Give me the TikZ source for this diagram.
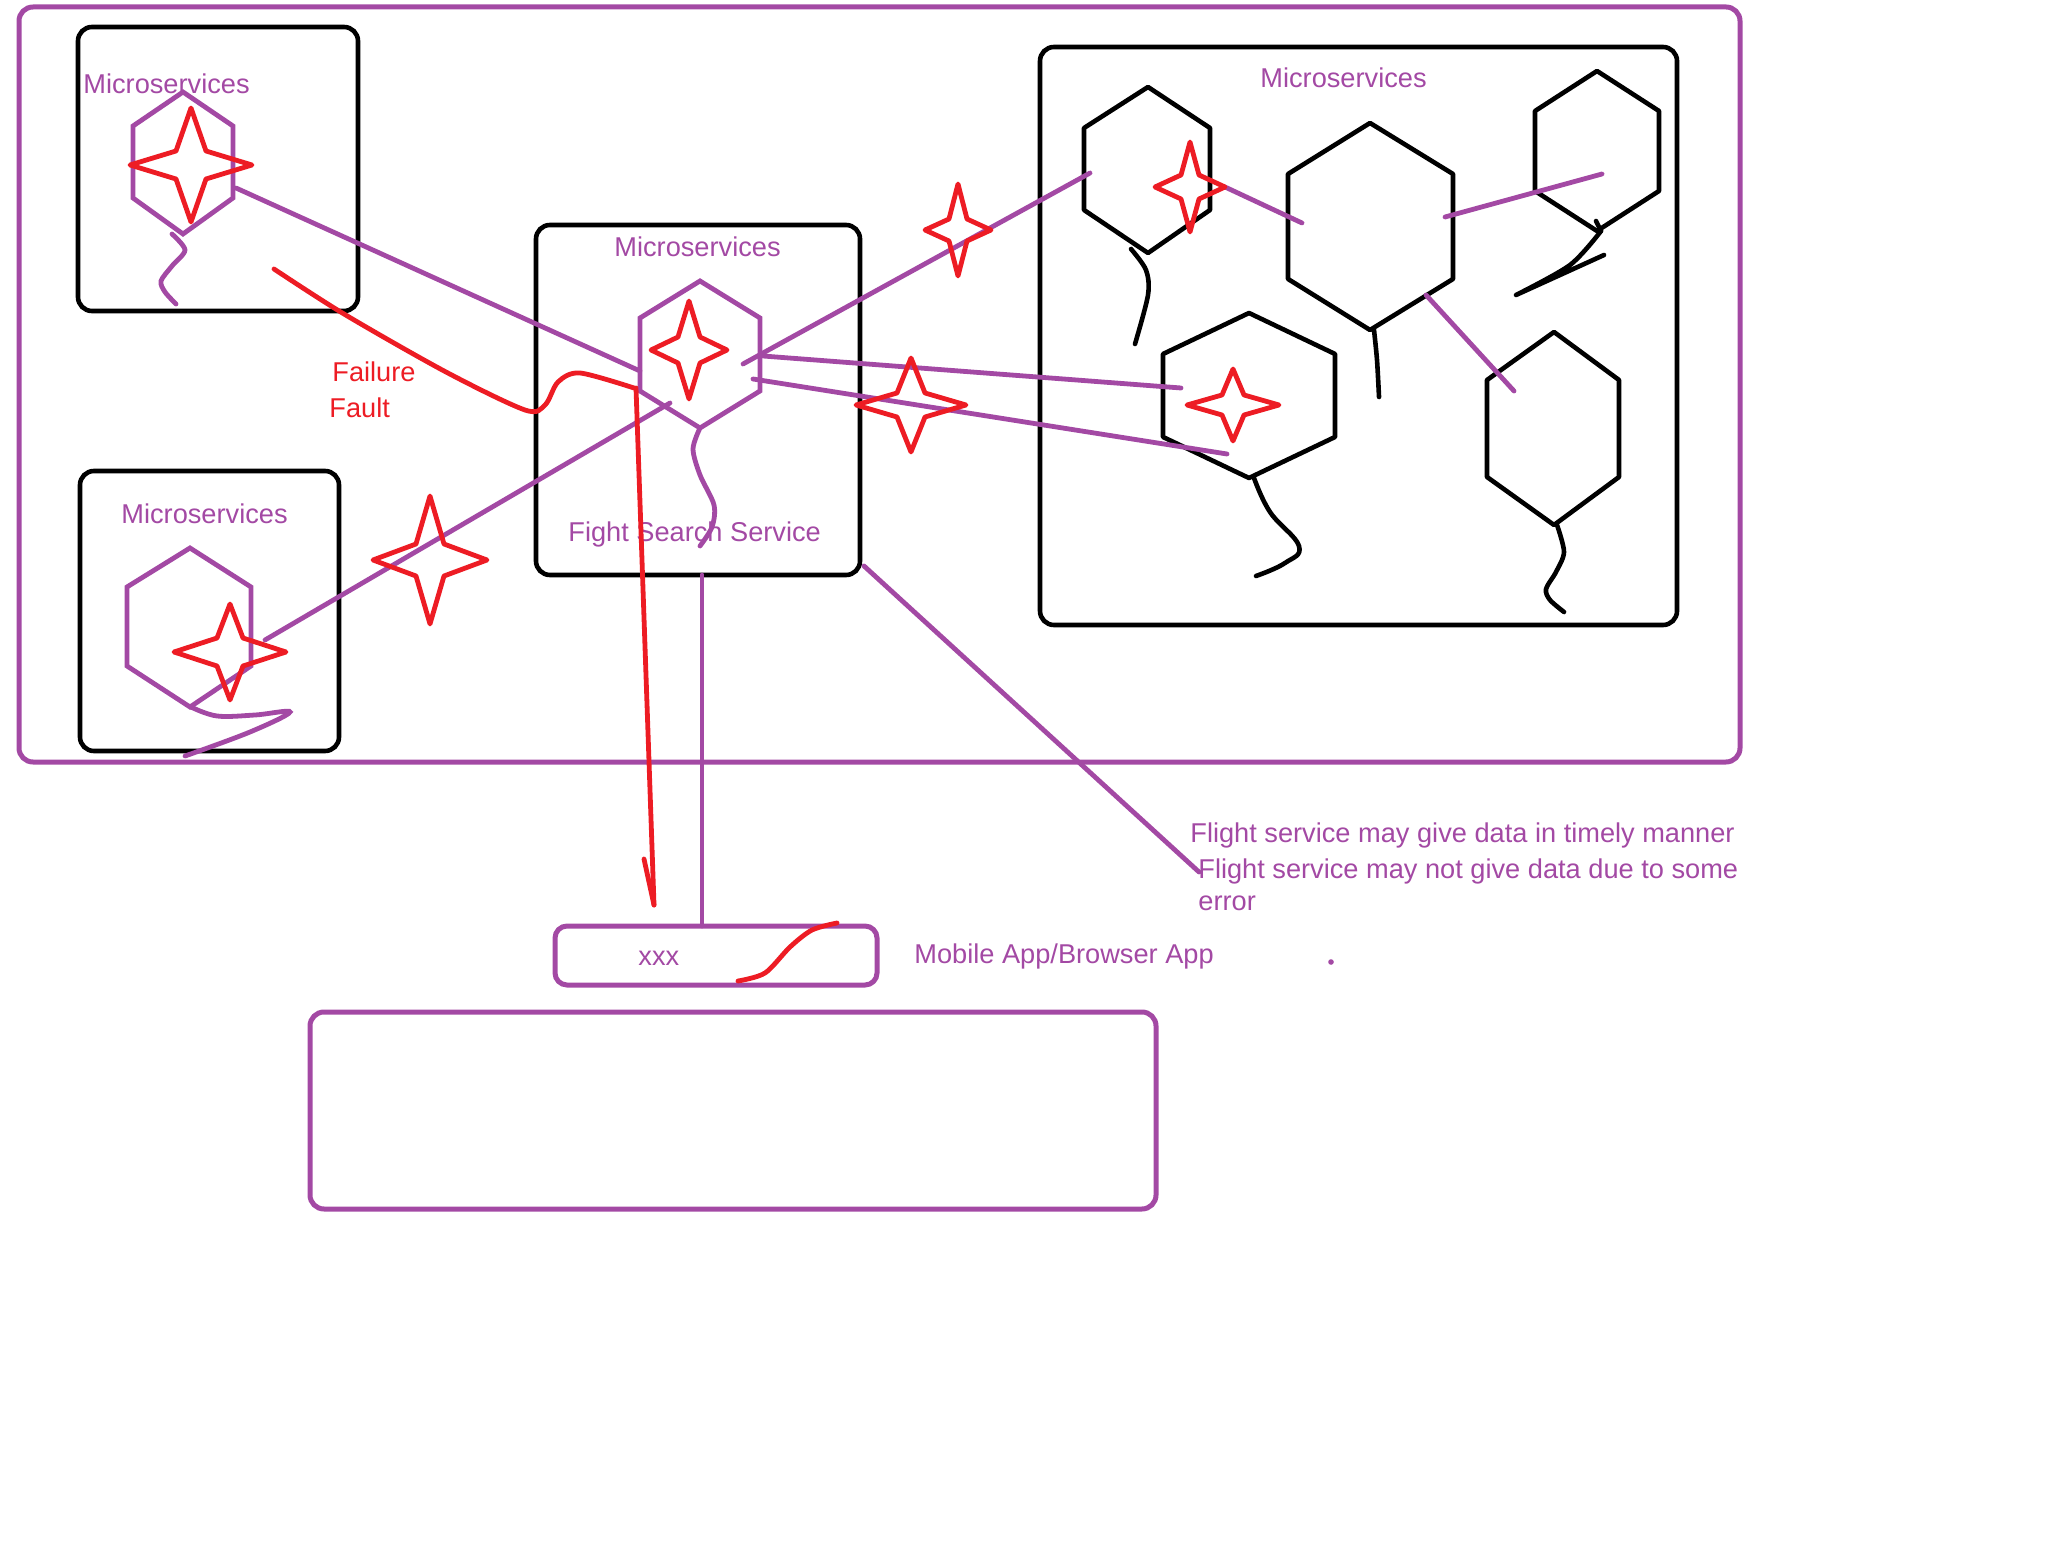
\documentclass[tikz,border=0pt]{standalone}
\usepackage{fontspec}
\setmainfont{Liberation Sans}
\usetikzlibrary{fit,positioning}
\definecolor{paintpurple}{HTML}{A349A4}
\definecolor{paintred}{HTML}{ED1C24}
\tikzset{
  blackbox/.style={draw=black,line width=2.3pt,rounded corners=7pt,inner sep=0pt},
  purplebox/.style={draw=paintpurple,line width=2.5pt,rounded corners=7pt,inner sep=0pt},
  link/.style={draw=paintpurple,line width=2.4pt,line cap=round},
  fail/.style={draw=paintred,line width=2.4pt,line cap=round,line join=round},
  sketch/.style={draw=black,line width=2.3pt,line cap=round,line join=round},
  purpletext/.style={text=paintpurple,font=\fontsize{13.6}{16}\selectfont,anchor=base west,inner sep=0pt},
  redtext/.style={purpletext,text=paintred}
}
\begin{document}
\begin{tikzpicture}[x=0.5pt,y=-0.5pt]
  \useasboundingbox (0,0) rectangle (2070,1550);
  % boxes
  \node[purplebox,fit={(19,7)(1740,762)}]   (system) {};
  \node[blackbox,fit={(78,27)(358,311)}]    (boxtopleft) {};
  \node[blackbox,fit={(536,225)(860,575)}]  (boxsearch) {};
  \node[blackbox,fit={(80,471)(339,751)}]   (boxbottomleft) {};
  \node[blackbox,fit={(1040,47)(1677,625)}] (boxright) {};
  \node[purplebox,fit={(310,1012)(1156,1209)}] (lowerbox) {};
  \node[purplebox,rounded corners=6pt,fit={(555,926)(877,985)}] (appbox) {};
  % hexagons
  \foreach \cx/\xl/\xr/\yt/\yu/\yd/\yb in {1148/1084/1210/87/128/210/253,
      1370/1288/1453/123/174/279/330, 1597/1535/1659/71/111/191/231,
      1249/1163/1335/313/354/437/478, 1554/1487/1619/332/380/477/525}
    \draw[sketch] (\cx,\yt) -- (\xr,\yu) -- (\xr,\yd) -- (\cx,\yb) -- (\xl,\yd) -- (\xl,\yu) -- cycle;
  \foreach \cx/\xl/\xr/\yt/\yu/\yd/\yb in {183/133/233/92/126/198/234,
      700/640/760/281/318/391/428, 190/127/251/548/587/666/707}
    \draw[link,line cap=butt] (\cx,\yt) -- (\xr,\yu) -- (\xr,\yd) -- (\cx,\yb) -- (\xl,\yd) -- (\xl,\yu) -- cycle;
  % texts
  \node[purpletext] (msa) at (83,94)    {Microservices};
  \node[purpletext] (msb) at (614,257)  {Microservices};
  \node[purpletext] (msc) at (121,524)  {Microservices};
  \node[purpletext] (msd) at (1260,88)  {Microservices};
  \node[purpletext] (search) at (568,542) {Fight Search Service};
  \node[redtext]    (failure) at (332,382) {Failure};
  \node[redtext]    (fault)   at (329,418) {Fault};
  \node[purpletext] (notea) at (1190,842) {Flight service may give data in timely manner};
  \node[purpletext] (noteb) at (1198,878) {Flight service may not give data due to some};
  \node[purpletext] (notec) at (1198,910) {error};
  \node[purpletext] (xxx)   at (638,965)  {xxx};
  \node[purpletext] (mobile) at (914,963) {Mobile App/Browser App};
  \fill[paintpurple] (1331,962) circle (2.8) coordinate (dot);
  % connector ends
  \foreach \nm/\px/\py in {a/236/188, b/640/371, c/743/364, d/1090/173, e/763/356, f/1181/388,
      g/753/379, h/1227/454, i/670/403, j/265/640, k/702/575, l/702/926, m/864/566, n/1199/872,
      o/1225/187, p/1302/223, q/1445/217, r/1602/174, s/1426/295, t/1514/391,
      u/636/388, v/654/905, w/644/859}
    \coordinate (\nm) at (\px,\py);
  % sketched tails
  \draw[sketch] plot[smooth] coordinates {(1131,249) (1146,270) (1148,295) (1135,344)};
  \draw[sketch] plot[smooth] coordinates {(1374,330) (1377,360) (1379,397)};
  \draw[sketch] (1596,221) -- (1601,231);
  \draw[sketch] plot[smooth] coordinates {(1601,231) (1570,265) (1516,295)} -- (1604,255);
  \draw[sketch] plot[smooth,tension=0.7] coordinates {(1254,478) (1270,512) (1299,546) (1285,563) (1256,576)};
  \draw[sketch] plot[smooth] coordinates {(1557,525) (1564,552) (1556,572) (1546,589) (1550,600) (1564,612)};
  \draw[link] plot[smooth] coordinates {(172,234) (185,250) (172,266) (161,281) (165,292) (176,304)};
  \draw[link] plot[smooth] coordinates {(700,428) (693,449) (700,475) (714,505) (712,527) (700,546)};
  \draw[link] plot[smooth,tension=0.6] coordinates {(191,707) (217,716) (255,715) (290,712) (250,732) (185,756)};
  % links
  \draw[link] (a) -- (b);
  \draw[link] (c) -- (d);
  \draw[link] (e) -- (f);
  \draw[link] (g) -- (h);
  \draw[link] (i) -- (j);
  \draw[link] (k) -- (l);
  \draw[link] (m) -- (n);
  \draw[link] (o) -- (p);
  \draw[link] (q) -- (r);
  \draw[link] (s) -- (t);
  % stars
  \foreach \sx/\sy/\rx/\ry/\ix/\iy in {191/165/61/57/15/14, 689/350/38/49/11/13, 230/652/56/48/13/14,
      430/560/57/64/14/16, 958/230/33/46/9/11, 911/405/55/47/14/12, 1190/187/35/45/9/12, 1233/405/46/36/11/10}
    \draw[fail] (\sx-\rx,\sy) -- (\sx-\ix,\sy-\iy) -- (\sx,\sy-\ry) -- (\sx+\ix,\sy-\iy) -- (\sx+\rx,\sy)
      -- (\sx+\ix,\sy+\iy) -- (\sx,\sy+\ry) -- (\sx-\ix,\sy+\iy) -- cycle;
  % failure path
  \draw[fail] plot[smooth] coordinates {(274,269) (344,314) (446,372) (525,410) (545,405) (558,382) (580,373) (634,388)};
  \draw[fail] (u) -- (v);
  \draw[fail] (w) -- (v);
  \draw[fail] plot[smooth] coordinates {(738,981) (765,973) (790,947) (812,930) (837,923)};
\end{tikzpicture}
\end{document}
